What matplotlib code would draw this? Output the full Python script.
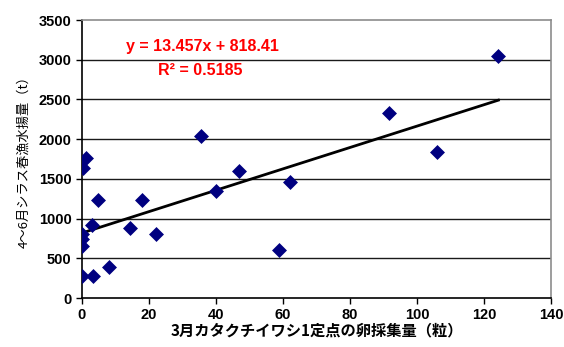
import numpy as np
import matplotlib.pyplot as plt

plt.rcParams['font.family'] = ['Noto Sans CJK JP', 'DejaVu Sans']

# egg counts (Mar) vs. shirasu catch (Apr-Jun)
eggs = [124.3, 91.6, 106.0, 35.6, 46.9, 40.0, 62.1, 58.8, 17.9, 22.1,
        14.3, 4.9, 2.9, 8.2, 3.2, 0.0, 0.0, 0.0, 0.0, 0.2, 1.2]
catch = [3045, 2325, 1835, 2045, 1600, 1345, 1455, 605, 1235, 810,
         880, 1240, 920, 395, 280, 280, 650, 745, 810, 1635, 1760]

slope, intercept = 13.457, 818.41
r2 = 0.5185

fig = plt.figure(figsize=(5.64, 3.47), dpi=100)
ax = fig.add_axes([82 / 564, 1 - 298 / 347, (551 - 82) / 564, (298 - 20) / 347])

ax.set_xlim(0, 140)
ax.set_ylim(0, 3500)
ax.set_xticks(np.arange(0, 141, 20))
ax.set_yticks(np.arange(0, 3501, 500))

for yv in range(500, 3001, 500):
    ax.axhline(yv, color='#1a1a1a', lw=1.0, zorder=1)

ax.scatter(eggs, catch, marker='D', s=58, color='#000080', zorder=3, linewidths=0)

xs = np.array([0, max(eggs)])
ax.plot(xs, slope * xs + intercept, color='black', lw=2.0, zorder=2)

ax.text(0.256, 0.903, f'y = {slope}x + {intercept}', transform=ax.transAxes,
        ha='center', va='center', color='#ff0000', fontsize=11.5, fontweight='bold',
        family='Liberation Sans')
ax.text(0.252, 0.82, f'R² = {r2}', transform=ax.transAxes,
        ha='center', va='center', color='#ff0000', fontsize=11.5, fontweight='bold',
        family='Liberation Sans')

for side in ('top', 'right'):
    ax.spines[side].set_color('#8c8c8c')
    ax.spines[side].set_linewidth(1.2)
for side in ('left', 'bottom'):
    ax.spines[side].set_color('black')
    ax.spines[side].set_linewidth(1.2)

ax.tick_params(axis='both', direction='out', length=4, width=1, colors='black')
for lab in ax.get_xticklabels() + ax.get_yticklabels():
    lab.set_fontweight('bold')
    lab.set_fontfamily('Liberation Sans')
    lab.set_fontsize(10.5)

ax.set_xlabel('3月カタクチイワシ1定点の卵採集量（粒）', fontsize=11, fontweight='bold',
              labelpad=0)
ax.set_ylabel('4〜6月シラス春漁水揚量（t）', fontsize=9.5, labelpad=6)

fig.savefig('out.png', dpi=100)
